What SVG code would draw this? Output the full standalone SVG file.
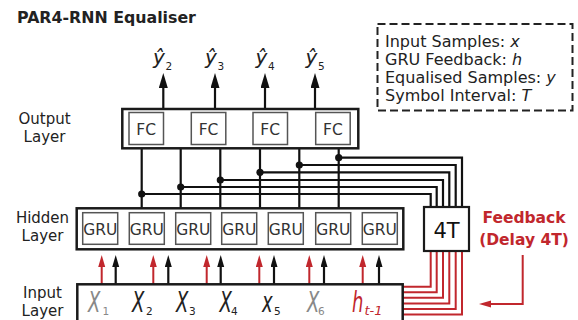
<svg xmlns="http://www.w3.org/2000/svg" width="578" height="320" viewBox="0 0 578 320">
<style>
  text { font-family: "DejaVu Sans", Verdana, sans-serif; fill: #222; }
  .title { font-weight: bold; font-size: 15.8px; }
  .lab { font-size: 15px; text-anchor: middle; }
  .leg { font-size: 16px; }
  .it { font-style: italic; }
  .outer { fill: #fff; stroke: #1a1a1a; stroke-width: 2.5; }
  .inner { fill: #fff; stroke: #555; stroke-width: 1.5; }
  .box4t { fill: #fff; stroke: #1a1a1a; stroke-width: 2.2; }
  .node { font-size: 15.5px; text-anchor: middle; fill: #333; }
  .blk { fill: none; stroke: #111; stroke-width: 2.2; }
  .red { fill: none; stroke: #c1272d; stroke-width: 2; }
  .fb { font-weight: bold; font-size: 15.5px; fill: #c1272d; text-anchor: middle; }
  .dot { fill: #111; }
  .xin { font-size: 18px; font-style: italic; }
  .sub { font-size: 10.5px; }
</style>
<defs>
  <marker id="ahOut" markerUnits="userSpaceOnUse" markerWidth="15" markerHeight="10" refX="0" refY="4.5" orient="auto">
    <path d="M0,0 L15,4.5 L0,9 Z" fill="#111"/>
  </marker>
  <marker id="ahBlk" markerUnits="userSpaceOnUse" markerWidth="12" markerHeight="8" refX="0" refY="3.5" orient="auto">
    <path d="M0,0 L12,3.5 L0,7 Z" fill="#111"/>
  </marker>
  <marker id="ahRed" markerUnits="userSpaceOnUse" markerWidth="12" markerHeight="8" refX="0" refY="3.5" orient="auto">
    <path d="M0,0 L12,3.5 L0,7 Z" fill="#c1272d"/>
  </marker>
</defs>

<text class="title" x="17" y="23">PAR4-RNN Equaliser</text>

<g id="legend">
  <rect x="377.5" y="24" width="195" height="86.5" fill="#fff" stroke="#222" stroke-width="2" stroke-dasharray="8,4"/>
  <text class="leg" x="385" y="47">Input Samples: <tspan class="it">x</tspan></text>
  <text class="leg" x="385" y="65">GRU Feedback: <tspan class="it">h</tspan></text>
  <text class="leg" x="385" y="83">Equalised Samples: <tspan class="it">y</tspan></text>
  <text class="leg" x="385" y="101">Symbol Interval: <tspan class="it">T</tspan></text>
</g>

<g id="layer-labels">
  <text class="lab" x="44.5" y="124">Output</text>
  <text class="lab" x="44.5" y="142">Layer</text>
  <text class="lab" x="42.5" y="223">Hidden</text>
  <text class="lab" x="42.5" y="241">Layer</text>
  <text class="lab" x="42.5" y="298">Input</text>
  <text class="lab" x="42.5" y="316">Layer</text>
</g>

<g id="connectors">
  <line class="blk" x1="163.3" y1="109" x2="163.3" y2="88" marker-end="url(#ahOut)" stroke-width="2.5"/>
  <line class="blk" x1="215" y1="109" x2="215" y2="88" marker-end="url(#ahOut)" stroke-width="2.5"/>
  <line class="blk" x1="265" y1="109" x2="265" y2="88" marker-end="url(#ahOut)" stroke-width="2.5"/>
  <line class="blk" x1="315" y1="109" x2="315" y2="88" marker-end="url(#ahOut)" stroke-width="2.5"/>
  <line class="blk" x1="141.7" y1="148" x2="141.7" y2="208"/>
  <line class="blk" x1="180.7" y1="148" x2="180.7" y2="208"/>
  <line class="blk" x1="220.3" y1="148" x2="220.3" y2="208"/>
  <line class="blk" x1="260" y1="148" x2="260" y2="208"/>
  <line class="blk" x1="299.3" y1="148" x2="299.3" y2="208"/>
  <line class="blk" x1="338.7" y1="148" x2="338.7" y2="208"/>
  <path class="blk" d="M338.7,157.7 H462 V207"/>
  <path class="blk" d="M299.3,165 H455.7 V207"/>
  <path class="blk" d="M260,172.3 H449.3 V207"/>
  <path class="blk" d="M220.3,180 H443 V207"/>
  <path class="blk" d="M180.7,187 H436.7 V207"/>
  <path class="blk" d="M141.7,194 H430.7 V207"/>
  <circle class="dot" cx="338.7" cy="157.7" r="3.6"/>
  <circle class="dot" cx="299.3" cy="165" r="3.6"/>
  <circle class="dot" cx="260" cy="172.3" r="3.6"/>
  <circle class="dot" cx="220.3" cy="180" r="3.6"/>
  <circle class="dot" cx="180.7" cy="187" r="3.6"/>
  <circle class="dot" cx="141.7" cy="194" r="3.6"/>
  <path class="red" d="M430.7,251 V286.7 H402.7"/>
  <path class="red" d="M436.7,251 V292.2 H402.7"/>
  <path class="red" d="M443,251 V297.8 H402.7"/>
  <path class="red" d="M449.3,251 V303.4 H402.7"/>
  <path class="red" d="M455.7,251 V309 H402.7"/>
  <path class="red" d="M462,251 V314.6 H402.7"/>
  <path class="red" d="M522.7,255 V304 H491" marker-end="url(#ahRed)"/>
  <line class="red" x1="101.7" y1="284" x2="101.7" y2="267" marker-end="url(#ahRed)"/>
  <line class="blk" x1="115.7" y1="284" x2="115.7" y2="267" stroke-width="2" marker-end="url(#ahBlk)"/>
  <line class="red" x1="153.3" y1="284" x2="153.3" y2="267" marker-end="url(#ahRed)"/>
  <line class="blk" x1="168.3" y1="284" x2="168.3" y2="267" stroke-width="2" marker-end="url(#ahBlk)"/>
  <line class="red" x1="206.7" y1="284" x2="206.7" y2="267" marker-end="url(#ahRed)"/>
  <line class="blk" x1="220.7" y1="284" x2="220.7" y2="267" stroke-width="2" marker-end="url(#ahBlk)"/>
  <line class="red" x1="259.3" y1="284" x2="259.3" y2="267" marker-end="url(#ahRed)"/>
  <line class="blk" x1="274" y1="284" x2="274" y2="267" stroke-width="2" marker-end="url(#ahBlk)"/>
  <line class="red" x1="309.3" y1="284" x2="309.3" y2="267" marker-end="url(#ahRed)"/>
  <line class="blk" x1="324" y1="284" x2="324" y2="267" stroke-width="2" marker-end="url(#ahBlk)"/>
  <line class="red" x1="362.7" y1="284" x2="362.7" y2="267" marker-end="url(#ahRed)"/>
  <line class="blk" x1="379" y1="284" x2="379" y2="267" stroke-width="2" marker-end="url(#ahBlk)"/>
</g>

<g id="output-layer">
  <rect class="outer" x="122.3" y="109" width="236" height="39.3"/>
  <g id="fc1"><rect class="inner" x="129" y="112.5" width="34.5" height="32"/><text class="node" x="146.2" y="135">FC</text></g>
  <g id="fc2"><rect class="inner" x="191.3" y="112.5" width="34.5" height="32"/><text class="node" x="208.5" y="135">FC</text></g>
  <g id="fc3"><rect class="inner" x="253" y="112.5" width="34.5" height="32"/><text class="node" x="270.2" y="135">FC</text></g>
  <g id="fc4"><rect class="inner" x="315.7" y="112.5" width="34.5" height="32"/><text class="node" x="332.9" y="135">FC</text></g>
</g>

<g id="outputs">
  <text class="xin" x="153" y="64" style="font-size:20px">ŷ</text><text class="sub" x="165.5" y="70" fill="#444">2</text>
  <text class="xin" x="205" y="64" style="font-size:20px">ŷ</text><text class="sub" x="217.5" y="70" fill="#444">3</text>
  <text class="xin" x="255.5" y="64" style="font-size:20px">ŷ</text><text class="sub" x="268" y="70" fill="#444">4</text>
  <text class="xin" x="305.5" y="64" style="font-size:20px">ŷ</text><text class="sub" x="318" y="70" fill="#444">5</text>
</g>

<g id="hidden-layer">
  <rect class="outer" x="76.7" y="208.3" width="326.6" height="41"/>
  <g id="gru1"><rect class="inner" x="82.7" y="212.7" width="35" height="31.6"/><text class="node" x="100.2" y="235">GRU</text></g>
  <g id="gru2"><rect class="inner" x="129.3" y="212.7" width="35" height="31.6"/><text class="node" x="146.8" y="235">GRU</text></g>
  <g id="gru3"><rect class="inner" x="175.7" y="212.7" width="35" height="31.6"/><text class="node" x="193.2" y="235">GRU</text></g>
  <g id="gru4"><rect class="inner" x="221.7" y="212.7" width="35" height="31.6"/><text class="node" x="239.2" y="235">GRU</text></g>
  <g id="gru5"><rect class="inner" x="268.3" y="212.7" width="35" height="31.6"/><text class="node" x="285.8" y="235">GRU</text></g>
  <g id="gru6"><rect class="inner" x="315.7" y="212.7" width="35" height="31.6"/><text class="node" x="333.2" y="235">GRU</text></g>
  <g id="gru7"><rect class="inner" x="362.3" y="212.7" width="35" height="31.6"/><text class="node" x="379.8" y="235">GRU</text></g>
</g>

<g id="delay-4t">
  <rect class="box4t" x="424" y="207" width="45" height="44"/>
  <text x="446.5" y="238" style="font-size:21px;text-anchor:middle;fill:#111">4T</text>
</g>

<g id="feedback-label">
  <text class="fb" x="524" y="223">Feedback</text>
  <text class="fb" x="524" y="245">(Delay 4T)</text>
</g>

<g id="input-layer">
  <rect class="outer" x="77.3" y="284.3" width="325.4" height="45"/>
  <g transform="translate(88,312) scale(1,1.6)"><text class="xin" x="0" y="0" style="fill:#888">X</text></g>
  <text class="sub" x="102.5" y="315" style="fill:#888">1</text>
  <g transform="translate(132,312) scale(1,1.6)"><text class="xin" x="0" y="0">X</text></g>
  <text class="sub" x="146" y="315">2</text>
  <g transform="translate(176,312) scale(1,1.6)"><text class="xin" x="0" y="0">X</text></g>
  <text class="sub" x="189" y="315">3</text>
  <g transform="translate(219.5,312) scale(1,1.6)"><text class="xin" x="0" y="0">X</text></g>
  <text class="sub" x="231" y="315">4</text>
  <g transform="translate(262,312) scale(1,1.6)"><text class="xin" x="0" y="0">x</text></g>
  <text class="sub" x="274" y="315">5</text>
  <g transform="translate(307,312) scale(1,1.6)"><text class="xin" x="0" y="0" style="fill:#888">X</text></g>
  <text class="sub" x="318" y="315" style="fill:#888">6</text>
  <g transform="translate(352,312) scale(1,1.6)"><text class="xin" x="0" y="0" style="fill:#c1272d">h</text></g>
  <text class="sub it" x="364.5" y="315" style="fill:#c1272d;font-size:13px">t-1</text>
</g>
</svg>
